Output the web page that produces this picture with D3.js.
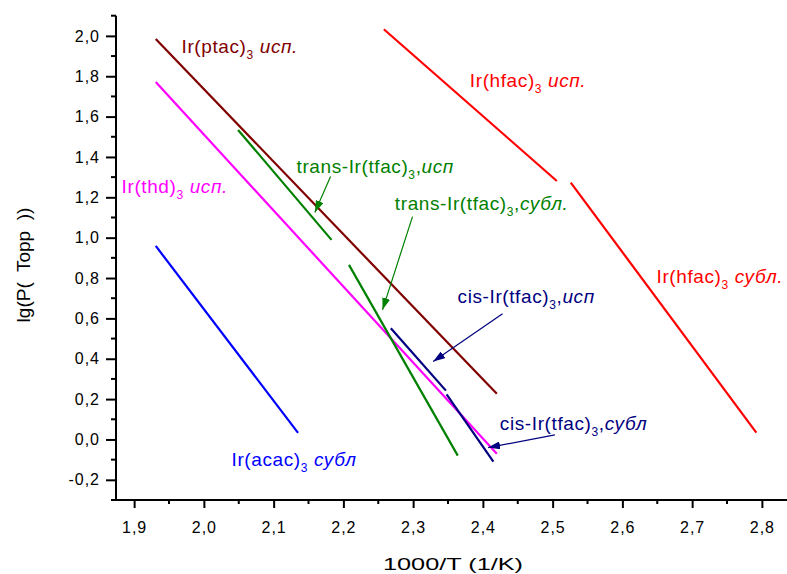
<!DOCTYPE html>
<html>
<head>
<meta charset="utf-8">
<title>lg P vs 1000/T</title>
<script src="https://cdn.jsdelivr.net/npm/d3@7"></script>
<style>
  body { margin: 0; background: #fff; }
  svg { display: block; font-family: "Liberation Sans", Arial, sans-serif; }
</style>
</head>
<body>
<svg width="787" height="574"></svg>
<script>
// tick values and their labels (decimal comma as in the original)
const xTicks = [1.9, 2.0, 2.1, 2.2, 2.3, 2.4, 2.5, 2.6, 2.7, 2.8];
const xTickLabels = ["1,9", "2,0", "2,1", "2,2", "2,3", "2,4", "2,5", "2,6", "2,7", "2,8"];
const xMinor = [1.95, 2.05, 2.15, 2.25, 2.35, 2.45, 2.55, 2.65, 2.75];
const yTicks = [-0.2, 0.0, 0.2, 0.4, 0.6, 0.8, 1.0, 1.2, 1.4, 1.6, 1.8, 2.0];
const yTickLabels = ["-0,2", "0,0", "0,2", "0,4", "0,6", "0,8", "1,0", "1,2", "1,4", "1,6", "1,8", "2,0"];
const yMinor = [-0.3, -0.1, 0.1, 0.3, 0.5, 0.7, 0.9, 1.1, 1.3, 1.5, 1.7, 1.9, 2.1];

// series: [1000/T, lg P] endpoints
const ptacEvap = [[1.931, 1.984], [2.420, 0.226]];
const thdEvap = [[1.931, 1.771], [2.420, -0.071]];
const acacSubl = [[1.931, 0.959], [2.135, 0.033]];
const hfacEvap = [[2.258, 2.033], [2.506, 1.281]];
const hfacSubl = [[2.526, 1.273], [2.792, 0.034]];
const transEvap = [[2.049, 1.534], [2.183, 0.989]];
const transSubl = [[2.208, 0.865], [2.364, -0.080]];
const cisEvap = [[2.268, 0.551], [2.347, 0.242]];
const cisSubl = [[2.348, 0.224], [2.415, -0.110]];

const series = [
  { pts: ptacEvap, color: "#800000" },
  { pts: thdEvap, color: "#ff00ff" },
  { pts: acacSubl, color: "#0000ff" },
  { pts: hfacEvap, color: "#ff0000" },
  { pts: hfacSubl, color: "#ff0000" },
  { pts: transEvap, color: "#008000" },
  { pts: transSubl, color: "#008000" },
  { pts: cisEvap, color: "#000080" },
  { pts: cisSubl, color: "#000080" }
];

// labels: start point in data units, main text, subscript, separator, italic part
const labels = [
  { at: [1.968, 1.917], main: "Ir(ptac)", sub: "3", sep: " ", it: "исп.", color: "#800000" },
  { at: [1.882, 1.2235], main: "Ir(thd)", sub: "3", sep: " ", it: "исп.", color: "#ff00ff" },
  { at: [2.0396, -0.1294], main: "Ir(acac)", sub: "3", sep: " ", it: "субл", color: "#0000ff" },
  { at: [2.3813, 1.7458], main: "Ir(hfac)", sub: "3", sep: " ", it: "исп.", color: "#ff0000" },
  { at: [2.649, 0.7745], main: "Ir(hfac)", sub: "3", sep: " ", it: "субл.", color: "#ff0000" },
  { at: [2.1328, 1.3196], main: "trans-Ir(tfac)", sub: "3", sep: ",", it: "исп", color: "#008000" },
  { at: [2.2738, 1.1378], main: "trans-Ir(tfac)", sub: "3", sep: ",", it: "субл.", color: "#008000" },
  { at: [2.3637, 0.6784], main: "cis-Ir(tfac)", sub: "3", sep: ",", it: "исп", color: "#000080" },
  { at: [2.4243, 0.0476], main: "cis-Ir(tfac)", sub: "3", sep: ",", it: "субл", color: "#000080" }
];

// arrows: from label to line, in data units
const arrows = [
  { from: [2.1816, 1.3028], to: [2.1591, 1.1244], color: "#008000" },
  { from: [2.2991, 1.1046], to: [2.2561, 0.6422], color: "#008000" },
  { from: [2.4282, 0.6224], to: [2.3287, 0.3860], color: "#000080" },
  { from: [2.5032, 0.0228], to: [2.4075, -0.0402], color: "#000080" }
];

const svg = d3.select("svg");
const x = d3.scaleLinear().domain([1.874, 2.836]).range([116, 787]);
const y = d3.scaleLinear().domain([-0.3, 2.1]).range([500, 15.7]);

// x axis
const xAxis = svg.append("g").attr("transform", "translate(0,500)");
xAxis.call(d3.axisBottom(x).tickValues(xTicks).tickSize(8).tickPadding(14)
  .tickFormat((d, i) => xTickLabels[i]));
xAxis.append("g").selectAll("line").data(xMinor).join("line")
  .attr("x1", d => x(d)).attr("x2", d => x(d)).attr("y1", 0).attr("y2", 4);

// y axis
const yAxis = svg.append("g").attr("transform", "translate(116,0)");
yAxis.call(d3.axisLeft(y).tickValues(yTicks).tickSize(10).tickPadding(6)
  .tickFormat((d, i) => yTickLabels[i]));
yAxis.append("g").selectAll("line").data(yMinor).join("line")
  .attr("y1", d => y(d)).attr("y2", d => y(d)).attr("x1", 0).attr("x2", -5);

svg.selectAll(".domain").attr("stroke", "#000").attr("stroke-width", 2);
xAxis.selectAll("line").attr("stroke", "#000").attr("stroke-width", 2);
yAxis.selectAll("line").attr("stroke", "#000").attr("stroke-width", 2);
svg.selectAll(".tick text").attr("font-size", 16)
  .attr("font-family", "Liberation Sans, Arial, sans-serif").attr("fill", "#000")
  .attr("letter-spacing", 1);
// straight domain without end caps
xAxis.select(".domain").attr("d", `M${x.range()[0]},0H${x.range()[1]}`);
yAxis.select(".domain").attr("d", `M0,${y.range()[0]}V${y.range()[1]}`);

// axis titles
svg.append("text")
  .attr("x", 383).attr("y", 570)
  .attr("font-size", 17).attr("textLength", 140).attr("lengthAdjust", "spacingAndGlyphs")
  .text("1000/T (1/K)");
svg.append("text")
  .attr("transform", "translate(30,265) rotate(-90)")
  .attr("text-anchor", "middle").attr("font-size", 19)
  .style("white-space", "pre")
  .text("lg(P(  Topp  ))");

// data lines
const line = d3.line().x(d => x(d[0])).y(d => y(d[1]));
svg.append("g").selectAll("path").data(series).join("path")
  .attr("d", d => line(d.pts))
  .attr("fill", "none")
  .attr("stroke", d => d.color)
  .attr("stroke-width", 2.2);

// arrows
const defs = svg.append("defs");
arrows.forEach((a, i) => {
  defs.append("marker")
    .attr("id", "ah" + i)
    .attr("viewBox", "0 0 12 8")
    .attr("refX", 12).attr("refY", 4)
    .attr("markerWidth", 12).attr("markerHeight", 8)
    .attr("markerUnits", "userSpaceOnUse")
    .attr("orient", "auto")
    .append("path").attr("d", "M0,0L12,4L0,8Z").attr("fill", a.color);
});
svg.append("g").selectAll("line").data(arrows).join("line")
  .attr("x1", d => x(d.from[0])).attr("y1", d => y(d.from[1]))
  .attr("x2", d => x(d.to[0])).attr("y2", d => y(d.to[1]))
  .attr("stroke", d => d.color).attr("stroke-width", 1.2)
  .attr("marker-end", (d, i) => `url(#ah${i})`);

// labels
const lab = svg.append("g").selectAll("text").data(labels).join("text")
  .attr("x", d => x(d.at[0])).attr("y", d => y(d.at[1]))
  .attr("fill", d => d.color).attr("font-size", 19)
  .attr("letter-spacing", 0.6)
  .style("white-space", "pre");
lab.append("tspan").text(d => d.main);
lab.append("tspan").attr("dy", 6).attr("font-size", 12).text(d => d.sub);
lab.append("tspan").attr("dy", -6).text(d => d.sep);
lab.append("tspan").attr("font-style", "italic").text(d => d.it);
</script>
</body>
</html>
